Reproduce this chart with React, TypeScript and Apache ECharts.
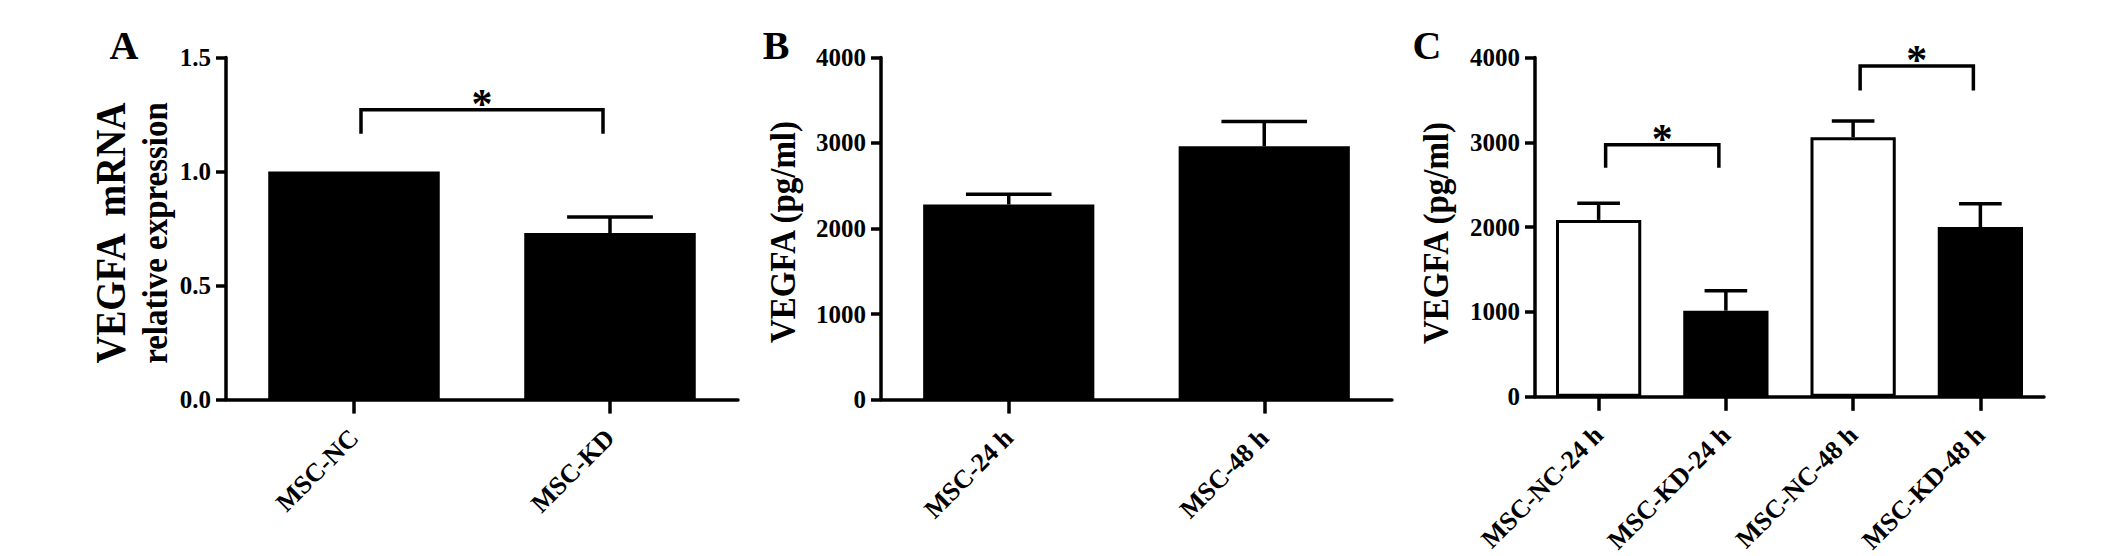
import React, { useEffect, useRef } from 'react';
import * as echarts from 'echarts';

// Panel A
const categoriesA = ['MSC-NC', 'MSC-KD'];
const valuesA = [1.0, 0.73];
const errorsA = [0, 0.07];
const bracketsA = [[0, 1, 1.27, 1.165]];
const axisA = { max: 1.5, interval: 0.5 };

// Panel B
const categoriesB = ['MSC-24 h', 'MSC-48 h'];
const valuesB = [2280, 2960];
const errorsB = [120, 290];

// Panel C
const categoriesC = ['MSC-NC-24 h', 'MSC-KD-24 h', 'MSC-NC-48 h', 'MSC-KD-48 h'];
const valuesC = [2085, 1015, 3060, 2000];
const errorsC = [195, 235, 190, 275];
const bracketsC = [
  [0, 1, 2970, 2700],
  [2, 3, 3900, 3610],
];
const axisBC = { max: 4000, interval: 1000 };

const SERIF = "'Liberation Serif', 'Times New Roman', serif";
const LW = 3.5;

function buildOption() {
  const grids = [
    { left: 226, top: 57.4, width: 512, height: 342.2 },
    { left: 881, top: 57.4, width: 511, height: 342.2 },
    { left: 1535, top: 57.4, width: 509, height: 342.2 },
  ];
  const cats = [categoriesA, categoriesB, categoriesC];
  const vals = [valuesA, valuesB, valuesC];
  const errs = [errorsA, errorsB, errorsC];
  const axes = [axisA, axisBC, axisBC];
  const brackets = [bracketsA, [], bracketsC];

  const xAxis = cats.map((c, i) => ({
    type: 'category',
    gridIndex: i,
    data: c,
    axisLine: { show: true, lineStyle: { color: '#000', width: LW } },
    axisTick: { show: true, alignWithLabel: true, length: 14, lineStyle: { color: '#000', width: LW } },
    axisLabel: {
      interval: 0,
      rotate: 45,
      margin: 34,
      color: '#000',
      fontFamily: SERIF,
      fontWeight: 'bold',
      fontSize: 26,
    },
    splitLine: { show: false },
  }));

  const yAxis = axes.map((a, i) => ({
    type: 'value',
    gridIndex: i,
    min: 0,
    max: a.max,
    interval: a.interval,
    axisLine: { show: true, lineStyle: { color: '#000', width: LW } },
    axisTick: { show: true, length: 10, lineStyle: { color: '#000', width: LW } },
    axisLabel: {
      margin: 15,
      color: '#000',
      fontFamily: SERIF,
      fontWeight: 'bold',
      fontSize: 25,
      formatter: (v: number) => (i === 0 ? v.toFixed(1) : String(v)),
    },
    splitLine: { show: false },
  }));

  const series: any[] = [];
  cats.forEach((c, i) => {
    series.push({
      type: 'bar',
      xAxisIndex: i,
      yAxisIndex: i,
      barWidth: '67%',
      data: vals[i].map((v, k) => ({
        value: v,
        itemStyle: { color: i === 2 && c[k].includes('NC') ? '#fff' : '#000' },
      })),
      itemStyle: { borderColor: '#000', borderWidth: 3 },
      z: 2,
    });
    series.push({
      type: 'custom',
      xAxisIndex: i,
      yAxisIndex: i,
      z: 3,
      encode: { x: 0, y: 1 },
      data: errs[i].map((e, k) => [k, vals[i][k], e]).filter((d) => d[2] > 0),
      renderItem: (params: any, api: any) => {
        const x = api.value(0);
        const v = api.value(1);
        const e = api.value(2);
        const base = api.coord([x, v]);
        const top = api.coord([x, v + e]);
        const half = (api.size([1, 0])[0] * 0.67) / 4;
        const st = { stroke: '#000', lineWidth: LW };
        return {
          type: 'group',
          children: [
            { type: 'line', shape: { x1: base[0], y1: base[1], x2: top[0], y2: top[1] }, style: st },
            { type: 'line', shape: { x1: top[0] - half, y1: top[1], x2: top[0] + half, y2: top[1] }, style: st },
          ],
        };
      },
    });
    if (brackets[i].length) {
      series.push({
        type: 'custom',
        xAxisIndex: i,
        yAxisIndex: i,
        z: 4,
        encode: { x: [0, 1], y: [2, 3] },
        data: brackets[i],
        renderItem: (params: any, api: any) => {
          const p1 = api.coord([api.value(0), api.value(2)]);
          const p2 = api.coord([api.value(1), api.value(2)]);
          const legY = api.coord([api.value(0), api.value(3)])[1];
          const inset = 7;
          const xl = p1[0] + inset;
          const xr = p2[0] - inset;
          return {
            type: 'group',
            children: [
              {
                type: 'polyline',
                shape: { points: [[xl, legY], [xl, p1[1]], [xr, p1[1]], [xr, legY]] },
                style: { stroke: '#000', lineWidth: LW, fill: 'none' },
              },
              {
                type: 'text',
                style: {
                  text: '*',
                  x: (xl + xr) / 2,
                  y: p1[1] - 6,
                  font: `bold 42px ${SERIF}`,
                  fill: '#000',
                  textAlign: 'center',
                  textVerticalAlign: 'middle',
                  align: 'center',
                  verticalAlign: 'middle',
                },
              },
            ],
          };
        },
      });
    }
  });

  const txt = (text: string, x: number, y: number, size: number, rotate = false) => ({
    type: 'text',
    x,
    y,
    rotation: rotate ? Math.PI / 2 : 0,
    scaleY: rotate ? 1.1 : 1,
    style: {
      text,
      font: `bold ${size}px ${SERIF}`,
      fill: '#000',
      textAlign: 'center',
      textVerticalAlign: 'middle',
      align: 'center',
      verticalAlign: 'middle',
    },
  });

  const graphic = [
    txt('A', 124, 45, 40),
    txt('B', 776, 45, 40),
    txt('C', 1427, 45, 40),
    txt('VEGFA  mRNA', 111, 233, 38, true),
    txt('relative expression', 155, 233, 33, true),
    txt('VEGFA (pg/ml)', 783, 232, 33, true),
    txt('VEGFA (pg/ml)', 1436, 233, 33, true),
  ];

  return {
    animation: false,
    backgroundColor: '#fff',
    grid: grids,
    xAxis,
    yAxis,
    series,
    graphic,
  };
}

export default function App() {
  const ref = useRef<HTMLDivElement>(null);
  useEffect(() => {
    if (!ref.current) return;
    const chart = echarts.init(ref.current, undefined, { renderer: 'svg' });
    chart.setOption(buildOption() as any);
    return () => chart.dispose();
  }, []);
  return (
    <div
      ref={ref}
      style={{ position: 'absolute', left: 0, top: 0, width: 2126, height: 556, background: '#fff' }}
    />
  );
}
